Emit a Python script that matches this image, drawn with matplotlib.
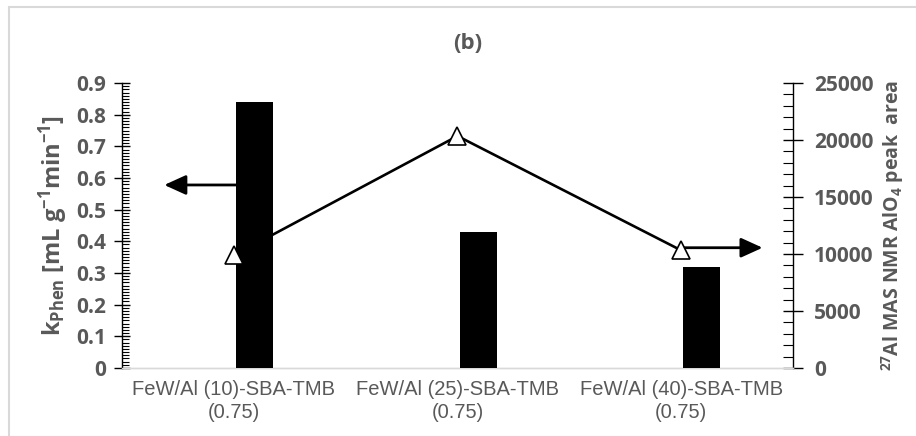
import matplotlib.pyplot as plt
from matplotlib.ticker import MultipleLocator
from matplotlib.patches import Rectangle

# samples, rate constants and 27Al NMR peak areas
samples = ["FeW/Al (10)-SBA-TMB\n(0.75)",
           "FeW/Al (25)-SBA-TMB\n(0.75)",
           "FeW/Al (40)-SBA-TMB\n(0.75)"]
k_phen = [0.84, 0.43, 0.32]
alo4_area = [9870, 20350, 10320]

grey = "#595959"
plt.rcParams["font.family"] = ["Open Sans", "DejaVu Sans"]
plt.rcParams["font.weight"] = "bold"
plt.rcParams["axes.labelweight"] = "bold"
plt.rcParams["mathtext.fontset"] = "custom"
plt.rcParams["mathtext.rm"] = "Open Sans:bold"
plt.rcParams["mathtext.bf"] = "Open Sans:bold"
plt.rcParams["mathtext.default"] = "rm"

fig = plt.figure(figsize=(9.16, 4.36), dpi=100)
ax = fig.add_axes([0.1332, 0.156, 0.7325, 0.6536])
ax2 = ax.twinx()

# bars live on the left axis, drawn above the line axis
ax.set_zorder(ax2.get_zorder() + 1)
ax.patch.set_visible(False)

xs = list(range(len(samples)))
bar_w = 0.165
ax.bar([x + 0.01 for x in xs], k_phen, width=bar_w, align="edge",
       color="black", zorder=3)

# connecting line sits behind the bars, markers in front
ax2.plot(xs, alo4_area, color="black", lw=1.9, zorder=2)
ax.plot(xs, alo4_area, transform=ax2.transData, ls="none", marker="^",
        ms=13, mfc="white", mec="black", mew=1.2, zorder=5)

ax.set_xlim(-0.5, 2.5)
ax.set_ylim(0, 0.9)
ax2.set_ylim(0, 25000)

# arrows pointing to the axis each series belongs to
arrow = dict(arrowstyle="-|>,head_length=1.1,head_width=0.5", color="black",
             lw=2, mutation_scale=12, shrinkA=0, shrinkB=0)
ax.annotate("", xy=(-0.311, 0.578), xytext=(0.02, 0.578),
            arrowprops=arrow, zorder=2)
ax.annotate("", xy=(2.364, 10550), xytext=(2.0, 10550),
            xycoords=ax2.transData, textcoords=ax2.transData,
            arrowprops=arrow, zorder=4)

# axes styling
ax.yaxis.set_major_locator(MultipleLocator(0.1))
ax.yaxis.set_minor_locator(MultipleLocator(0.01))
ax2.yaxis.set_major_locator(MultipleLocator(5000))
ax2.yaxis.set_minor_locator(MultipleLocator(1000))
ax.yaxis.set_major_formatter(lambda v, p: "0" if v == 0 else f"{v:.1f}")

ax.tick_params(axis="y", which="major", direction="inout", length=11,
               width=1, colors="black", labelcolor=grey, labelsize=15, pad=6)
ax.tick_params(axis="y", which="minor", direction="in", length=5, width=0.8)
ax2.tick_params(axis="y", which="major", direction="inout", length=14,
                width=1, colors="black", labelcolor=grey, labelsize=15, pad=8)
ax2.tick_params(axis="y", which="minor", direction="in", length=7, width=0.8)

ax.set_xticks(xs)
ax.set_xticklabels(samples, color=grey, fontsize=14.5, linespacing=1.25,
                   fontweight="normal", family=["Liberation Sans", "DejaVu Sans"])
ax.tick_params(axis="x", length=0, pad=9)

for a in (ax, ax2):
    a.spines["top"].set_visible(False)
    a.spines["bottom"].set_color("#d9d9d9")
    a.spines["bottom"].set_linewidth(1)
ax.spines["right"].set_visible(False)
ax2.spines["left"].set_visible(False)
ax.spines["left"].set_linewidth(1)
ax2.spines["right"].set_linewidth(1)

ax.set_ylabel(r"k$_{Phen}$ [mL g$^{-1}$min$^{-1}$]",
              color=grey, fontsize=17, labelpad=4)
ax2.set_ylabel(r"$^{27}$Al MAS NMR AlO$_{4}$ peak  area",
               color=grey, fontsize=14, rotation=90, labelpad=4)

fig.text(0.511, 0.9, "(b)", ha="center", va="center", color=grey, fontsize=16)

# light chart-area frame
fig.patches.append(Rectangle((8.5 / 916, -0.1), 1.2, 1.1 - 7.5 / 436,
                             transform=fig.transFigure, fill=False,
                             edgecolor="#d9d9d9", lw=1.5))

fig.savefig("out.png", dpi=100)
